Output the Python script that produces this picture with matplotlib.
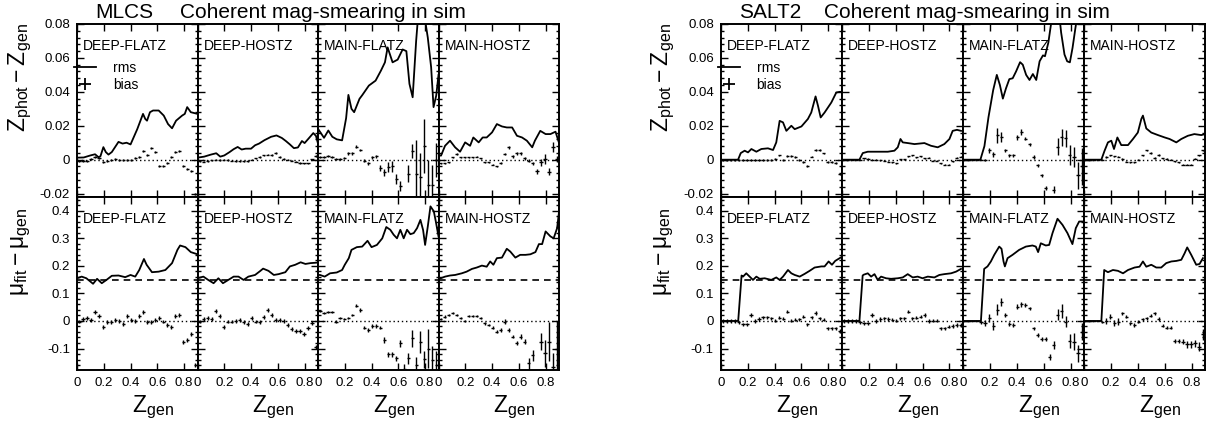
import numpy as np
import matplotlib
matplotlib.use('Agg')
import matplotlib.pyplot as plt
from matplotlib.ticker import MultipleLocator, FuncFormatter
from matplotlib.lines import Line2D

plt.rcParams['font.family'] = ['Liberation Sans', 'DejaVu Sans']
plt.rcParams['axes.unicode_minus'] = False
plt.rcParams['mathtext.fontset'] = 'custom'
plt.rcParams['mathtext.rm'] = 'Liberation Sans'
plt.rcParams['mathtext.it'] = 'Liberation Sans:italic'

nan = np.nan

# panel names and bin centres of the bias points
PANELS = ['DEEP-FLATZ', 'DEEP-HOSTZ', 'MAIN-FLATZ', 'MAIN-HOSTZ']
ZBIN = [0.015, 0.045, 0.075, 0.105, 0.135, 0.165, 0.195, 0.225, 0.255, 0.285,
        0.315, 0.345, 0.375, 0.405, 0.435, 0.465, 0.495, 0.525, 0.555, 0.585,
        0.615, 0.645, 0.675, 0.705, 0.735, 0.765, 0.795, 0.825, 0.855, 0.885]

# ---------------- MLCS, z_phot - z_gen ----------------
mlcs_z_df_rms = [(0.0, 0.0012), (0.05, 0.0013), (0.10, 0.0025), (0.135, 0.0032), (0.16, 0.0015),
                 (0.175, 0.002), (0.197, 0.0074), (0.215, 0.0045), (0.235, 0.003), (0.26, 0.0045),
                 (0.31, 0.0105), (0.34, 0.0095), (0.37, 0.010), (0.40, 0.009), (0.45, 0.018),
                 (0.493, 0.027), (0.51, 0.024), (0.523, 0.023), (0.545, 0.028), (0.568, 0.029),
                 (0.61, 0.029), (0.648, 0.026), (0.68, 0.021), (0.71, 0.0185), (0.74, 0.023),
                 (0.785, 0.026), (0.805, 0.027), (0.823, 0.031), (0.85, 0.028), (0.9, 0.027)]
mlcs_z_df_bias = [-0.0005, -0.0005, -0.0005, 0.0005, 0.0015, 0.001, -0.0012, -0.0008, -0.0003, 0.0003,
                  -0.0003, 0.0, -0.0002, 0.0, 0.001, 0.0015, 0.0053, 0.0027, 0.0067, 0.0047,
                  -0.0039, -0.0039, -0.0022, 0.0018, 0.0047, 0.0053, -0.0039, -0.0055, -0.0069, -0.020]
mlcs_z_df_err = 0.0006

mlcs_z_dh_rms = [(0.0, 0.0012), (0.05, 0.0018), (0.10, 0.003), (0.14, 0.0038), (0.17, 0.0018),
                 (0.2, 0.0025), (0.24, 0.0045), (0.27, 0.0062), (0.3, 0.0075), (0.33, 0.006),
                 (0.36, 0.0065), (0.4, 0.0065), (0.43, 0.0085), (0.46, 0.0095), (0.5, 0.0115),
                 (0.55, 0.0135), (0.59, 0.0143), (0.63, 0.0128), (0.66, 0.011), (0.69, 0.009),
                 (0.72, 0.0068), (0.75, 0.0072), (0.78, 0.011), (0.8, 0.0098), (0.83, 0.0125),
                 (0.865, 0.0157), (0.885, 0.014), (0.9, 0.0095)]
mlcs_z_dh_bias = [-0.0010, -0.0012, -0.0008, -0.0003, 0.0, -0.0002, 0.0, -0.0002, -0.0005, -0.0008,
                  -0.0010, -0.0010, -0.0008, 0.0, 0.0008, 0.0015, 0.0025, 0.0030, 0.0028, 0.0040,
                  0.0015, 0.0005, 0.0, -0.0005, -0.0012, -0.0020, -0.0022, -0.0022, 0.0002, 0.0022]
mlcs_z_dh_err = 0.0004

mlcs_z_mf_rms = [(0.0, 0.0182), (0.045, 0.0129), (0.077, 0.0172), (0.107, 0.0135), (0.14, 0.012),
                 (0.18, 0.0114), (0.21, 0.0245), (0.227, 0.0382), (0.25, 0.030), (0.27, 0.028),
                 (0.31, 0.0359), (0.33, 0.038), (0.38, 0.0437), (0.43, 0.0466), (0.47, 0.0525),
                 (0.50, 0.0574), (0.52, 0.0662), (0.557, 0.0574), (0.595, 0.059), (0.632, 0.065),
                 (0.66, 0.064), (0.683, 0.0447), (0.707, 0.0368), (0.733, 0.070), (0.745, 0.082),
                 (0.775, 0.095), (0.82, 0.072), (0.845, 0.0545), (0.863, 0.031), (0.883, 0.0378),
                 (0.9, 0.05)]
mlcs_z_mf_bias = [0.0018, 0.0014, 0.0024, 0.0018, 0.0004, 0.0004, 0.0008, 0.0037, 0.0037, 0.0076,
                  0.0057, -0.0006, -0.0022, 0.0014, 0.002, -0.0049, -0.0075, -0.0045, -0.004, -0.0114,
                  -0.0153, nan, -0.0084, 0.005, -0.0085, -0.010, 0.0082, -0.015, -0.015, 0.0]
mlcs_z_mf_err = [0.0006, 0.0006, 0.0006, 0.0006, 0.0006, 0.0006, 0.0006, 0.0008, 0.0008, 0.0008,
                 0.0008, 0.0008, 0.0008, 0.001, 0.001, 0.002, 0.002, 0.003, 0.003, 0.003,
                 0.003, 0.004, 0.005, 0.004, 0.02, 0.014, 0.016, 0.015, 0.012, 0.01]

mlcs_z_mh_rms = [(0.0, 0.0025), (0.019, 0.0024), (0.049, 0.0082), (0.086, 0.0112), (0.124, 0.0073),
                 (0.161, 0.0047), (0.199, 0.0102), (0.236, 0.0082), (0.26, 0.0131), (0.30, 0.0102),
                 (0.33, 0.0131), (0.36, 0.0131), (0.40, 0.0161), (0.436, 0.021), (0.474, 0.0196),
                 (0.51, 0.019), (0.55, 0.019), (0.586, 0.0141), (0.624, 0.0131), (0.66, 0.0112),
                 (0.70, 0.0073), (0.72, 0.0112), (0.76, 0.017), (0.80, 0.0151), (0.836, 0.0151),
                 (0.874, 0.0165), (0.899, 0.0102)]
mlcs_z_mh_bias = [-0.002, -0.002, -0.0016, 0.0014, 0.0033, 0.0014, 0.0014, 0.0014, 0.0014, 0.0018,
                  0.0008, -0.0016, -0.0016, -0.003, -0.004, -0.002, 0.0033, 0.0073, 0.002, 0.0037,
                  0.0037, 0.0008, -0.0006, -0.0022, -0.0069, -0.0016, 0.0004, -0.007, 0.0073, 0.0004]
mlcs_z_mh_err = [0.0003, 0.0003, 0.0003, 0.0003, 0.0006, 0.0003, 0.0003, 0.0003, 0.0003, 0.0004,
                 0.0004, 0.0004, 0.0004, 0.0004, 0.0004, 0.0005, 0.0008, 0.0008, 0.0008, 0.0008,
                 0.0008, 0.0008, 0.001, 0.001, 0.0015, 0.002, 0.003, 0.002, 0.003, 0.002]

# ---------------- MLCS, mu_fit - mu_gen ----------------
mlcs_mu_df_rms = [(0.0, 0.155), (0.035, 0.161), (0.07, 0.155), (0.12, 0.135), (0.15, 0.153),
                  (0.185, 0.137), (0.22, 0.149), (0.26, 0.164), (0.31, 0.165), (0.36, 0.159),
                  (0.40, 0.167), (0.435, 0.161), (0.465, 0.185), (0.50, 0.225), (0.52, 0.204),
                  (0.56, 0.177), (0.61, 0.179), (0.66, 0.185), (0.71, 0.21), (0.75, 0.258),
                  (0.77, 0.274), (0.81, 0.268), (0.85, 0.25), (0.9, 0.242)]
mlcs_mu_df_bias = [-0.002, 0.007, 0.012, 0.005, 0.032, 0.018, -0.023, -0.005, -0.005, 0.004,
                   0.001, -0.012, 0.019, 0.004, 0.001, 0.019, 0.034, -0.004, -0.005, 0.004,
                   0.010, -0.002, -0.015, -0.022, 0.018, 0.022, -0.075, -0.069, -0.048, -0.160]
mlcs_mu_df_err = 0.007

mlcs_mu_dh_rms = [(0.0, 0.155), (0.044, 0.161), (0.08, 0.149), (0.12, 0.137), (0.156, 0.155),
                  (0.19, 0.137), (0.23, 0.149), (0.27, 0.161), (0.306, 0.161), (0.344, 0.149),
                  (0.38, 0.161), (0.43, 0.167), (0.47, 0.182), (0.49, 0.19), (0.53, 0.182),
                  (0.57, 0.167), (0.606, 0.170), (0.656, 0.177), (0.69, 0.198), (0.73, 0.204),
                  (0.77, 0.213), (0.806, 0.207), (0.844, 0.21), (0.9, 0.212)]
mlcs_mu_dh_bias = [-0.002, 0.007, 0.010, 0.007, 0.036, 0.019, -0.021, -0.002, -0.002, 0.0,
                   0.002, -0.005, -0.012, 0.012, -0.002, -0.003, 0.013, 0.040, 0.022, 0.004,
                   0.002, 0.0, -0.015, -0.030, -0.036, -0.036, -0.048, -0.027, -0.008, -0.093]
mlcs_mu_dh_err = 0.007

mlcs_mu_mf_rms = [(0.0, 0.167), (0.015, 0.167), (0.05, 0.161), (0.09, 0.173), (0.14, 0.176),
                  (0.18, 0.185), (0.2, 0.204), (0.23, 0.228), (0.25, 0.258), (0.29, 0.268),
                  (0.33, 0.27), (0.37, 0.291), (0.40, 0.268), (0.44, 0.276), (0.48, 0.30),
                  (0.51, 0.341), (0.54, 0.331), (0.565, 0.313), (0.59, 0.30), (0.615, 0.331),
                  (0.64, 0.30), (0.665, 0.331), (0.69, 0.315), (0.715, 0.319), (0.74, 0.337),
                  (0.765, 0.367), (0.785, 0.33), (0.80, 0.276), (0.82, 0.343), (0.84, 0.416),
                  (0.865, 0.398), (0.88, 0.361), (0.9, 0.307)]
mlcs_mu_mf_bias = [0.036, 0.028, 0.032, 0.032, -0.002, 0.012, 0.007, 0.012, 0.022, 0.055,
                   0.040, -0.024, -0.033, -0.018, -0.018, -0.024, -0.069, -0.121, -0.121, -0.136,
                   -0.081, -0.175, -0.136, -0.063, -0.16, -0.075, -0.139, -0.10, -0.142, -0.16]
mlcs_mu_mf_err = [0.004, 0.004, 0.004, 0.004, 0.004, 0.004, 0.004, 0.004, 0.004, 0.006,
                  0.006, 0.006, 0.006, 0.006, 0.006, 0.006, 0.01, 0.01, 0.01, 0.01,
                  0.012, 0.02, 0.02, 0.03, 0.03, 0.04, 0.03, 0.07, 0.05, 0.05]

mlcs_mu_mh_rms = [(0.0, 0.155), (0.016, 0.155), (0.049, 0.161), (0.086, 0.165), (0.124, 0.167),
                  (0.174, 0.173), (0.21, 0.179), (0.25, 0.189), (0.286, 0.194), (0.324, 0.201),
                  (0.36, 0.197), (0.386, 0.216), (0.41, 0.204), (0.436, 0.228), (0.474, 0.23),
                  (0.51, 0.262), (0.536, 0.252), (0.574, 0.23), (0.61, 0.24), (0.65, 0.24),
                  (0.686, 0.242), (0.724, 0.25), (0.75, 0.279), (0.774, 0.279), (0.80, 0.325),
                  (0.836, 0.307), (0.86, 0.30), (0.886, 0.337), (0.904, 0.412)]
mlcs_mu_mh_bias = [0.006, 0.016, 0.022, 0.028, 0.022, 0.012, 0.0, 0.019, 0.019, 0.019,
                   0.010, -0.008, -0.015, -0.024, -0.039, -0.033, -0.002, -0.033, -0.057, -0.081,
                   -0.057, -0.075, -0.154, -0.124, nan, -0.075, -0.118, -0.075, -0.166, -0.1]
mlcs_mu_mh_err = [0.004, 0.004, 0.004, 0.004, 0.004, 0.004, 0.004, 0.004, 0.004, 0.004,
                  0.004, 0.005, 0.005, 0.005, 0.006, 0.006, 0.008, 0.006, 0.006, 0.008,
                  0.008, 0.008, 0.02, 0.02, 0.03, 0.03, 0.05, 0.07, 0.05, 0.1]

# ---------------- SALT2, z_phot - z_gen ----------------
salt_z_df_rms = [(0.0, 0.0), (0.129, 0.0), (0.149, 0.0039), (0.178, 0.0053), (0.203, 0.0043),
                 (0.228, 0.0063), (0.265, 0.0047), (0.302, 0.0063), (0.351, 0.0067), (0.389, 0.0057),
                 (0.413, 0.0102), (0.438, 0.0229), (0.463, 0.022), (0.488, 0.017), (0.525, 0.020),
                 (0.55, 0.018), (0.60, 0.0196), (0.648, 0.024), (0.673, 0.0278), (0.705, 0.0373),
                 (0.723, 0.0318), (0.743, 0.0249), (0.772, 0.0278), (0.822, 0.0337), (0.859, 0.0396),
                 (0.884, 0.040), (0.9, 0.040)]
salt_z_df_bias = [0.0, 0.0, 0.0, 0.0, 0.0, 0.0, 0.0, -0.0002, -0.0002, 0.0,
                  0.0, 0.0, -0.0002, 0.0004, 0.0025, 0.0, 0.0021, 0.0021, 0.0015, 0.0,
                  -0.0015, -0.0039, 0.0018, 0.0057, 0.0057, 0.0037, -0.0015, -0.0015, -0.002, -0.0086]
salt_z_df_err = 0.0005

salt_z_dh_rms = [(0.0, 0.0), (0.131, 0.0), (0.156, 0.0039), (0.193, 0.0047), (0.243, 0.0047),
                 (0.292, 0.0047), (0.342, 0.0047), (0.391, 0.0053), (0.416, 0.0073), (0.436, 0.0122),
                 (0.453, 0.0102), (0.49, 0.0098), (0.54, 0.0092), (0.614, 0.0098), (0.663, 0.0082),
                 (0.713, 0.0073), (0.762, 0.0092), (0.80, 0.0122), (0.824, 0.017), (0.856, 0.0176),
                 (0.886, 0.017)]
salt_z_dh_bias = [0.0, 0.0, 0.0, 0.0, 0.0, 0.0008, 0.0005, 0.0, 0.0, -0.0002,
                  -0.0006, -0.0012, -0.0016, -0.002, 0.0003, 0.0003, 0.002, 0.0025, 0.0015, 0.002,
                  0.0008, 0.0012, -0.0006, -0.0006, -0.002, -0.003, -0.003, -0.0008, 0.0012, 0.0018]
salt_z_dh_err = 0.0003

salt_z_mf_rms = [(0.0, 0.0), (0.13, 0.0), (0.16, 0.008), (0.19, 0.025), (0.225, 0.041),
                 (0.252, 0.050), (0.275, 0.044), (0.297, 0.036), (0.32, 0.042), (0.345, 0.0475),
                 (0.37, 0.048), (0.395, 0.052), (0.425, 0.0575), (0.445, 0.056), (0.47, 0.050),
                 (0.495, 0.047), (0.52, 0.0505), (0.545, 0.047), (0.57, 0.058), (0.595, 0.0615),
                 (0.61, 0.061), (0.635, 0.069), (0.655, 0.08), (0.68, 0.092), (0.71, 0.09),
                 (0.73, 0.075), (0.755, 0.062), (0.775, 0.058), (0.795, 0.0574), (0.815, 0.066),
                 (0.835, 0.077), (0.86, 0.09), (0.9, 0.095)]
salt_z_mf_bias = [0.0, 0.0, 0.0, 0.0, 0.0, 0.0, 0.0055, 0.0031, 0.0143, 0.0133,
                  0.0055, 0.0025, 0.0025, 0.0133, 0.0163, 0.0124, 0.009, 0.0016, -0.0033, -0.0092,
                  -0.0167, nan, -0.0176, 0.0075, 0.0133, 0.0125, 0.0028, 0.0015, -0.0093, -0.004]
salt_z_mf_err = [0.0003, 0.0003, 0.0003, 0.0003, 0.0003, 0.0005, 0.0015, 0.0015, 0.0045, 0.003,
                 0.001, 0.001, 0.001, 0.0015, 0.0015, 0.001, 0.001, 0.001, 0.001, 0.001,
                 0.001, 0.002, 0.002, 0.005, 0.005, 0.005, 0.006, 0.006, 0.008, 0.011]

salt_z_mh_rms = [(0.0, 0.0), (0.129, 0.0), (0.153, 0.0053), (0.178, 0.0102), (0.203, 0.0112),
                 (0.223, 0.0063), (0.248, 0.0131), (0.277, 0.0086), (0.327, 0.0086), (0.364, 0.0122),
                 (0.40, 0.016), (0.426, 0.024), (0.438, 0.026), (0.463, 0.0184), (0.50, 0.016),
                 (0.55, 0.0145), (0.60, 0.0131), (0.636, 0.0122), (0.686, 0.0102), (0.723, 0.0122),
                 (0.772, 0.0141), (0.82, 0.0151), (0.871, 0.0145), (0.9, 0.0151)]
salt_z_mh_bias = [0.0, 0.0, 0.0, 0.0, 0.0, 0.0015, 0.0025, 0.002, 0.0018, 0.0005,
                  -0.0012, -0.0015, -0.0015, 0.0, 0.0025, 0.0055, 0.004, 0.001, 0.0027, 0.0008,
                  0.0004, 0.0, -0.001, -0.0015, -0.003, -0.003, -0.003, 0.0006, 0.0025, 0.0055]
salt_z_mh_err = 0.0004

# ---------------- SALT2, mu_fit - mu_gen ----------------
salt_mu_df_rms = [(0.0, 0.0), (0.13, 0.0), (0.155, 0.165), (0.166, 0.161), (0.19, 0.173),
                  (0.215, 0.161), (0.24, 0.149), (0.265, 0.161), (0.29, 0.153), (0.327, 0.155),
                  (0.376, 0.149), (0.413, 0.158), (0.438, 0.149), (0.463, 0.161), (0.50, 0.185),
                  (0.525, 0.173), (0.55, 0.167), (0.587, 0.161), (0.624, 0.171), (0.661, 0.182),
                  (0.698, 0.194), (0.748, 0.198), (0.772, 0.198), (0.802, 0.216), (0.827, 0.204),
                  (0.851, 0.218), (0.891, 0.23)]
salt_mu_df_bias = [0.0, 0.0, 0.0, 0.0, -0.005, -0.012, -0.012, 0.022, 0.0, 0.007,
                   0.013, 0.013, 0.01, 0.001, 0.012, 0.008, 0.034, 0.001, 0.005, 0.006,
                   0.016, -0.012, 0.013, 0.029, 0.01, 0.005, -0.027, -0.027, -0.027, -0.036]
salt_mu_df_err = 0.006

salt_mu_dh_rms = [(0.0, 0.0), (0.131, 0.0), (0.155, 0.165), (0.163, 0.168), (0.193, 0.173),
                  (0.218, 0.161), (0.243, 0.17), (0.267, 0.149), (0.292, 0.161), (0.329, 0.155),
                  (0.366, 0.153), (0.416, 0.155), (0.453, 0.158), (0.49, 0.17), (0.527, 0.158),
                  (0.564, 0.161), (0.60, 0.155), (0.639, 0.161), (0.688, 0.158), (0.725, 0.167),
                  (0.762, 0.17), (0.812, 0.173), (0.849, 0.179), (0.886, 0.189)]
salt_mu_dh_bias = [0.0, 0.0, 0.0, 0.0, -0.005, -0.008, -0.008, 0.022, 0.0, 0.007,
                   0.01, 0.007, 0.005, 0.001, 0.01, 0.01, 0.034, 0.01, 0.012, 0.015,
                   0.022, 0.0, 0.001, 0.001, -0.027, -0.027, -0.021, -0.018, -0.015, -0.015]
salt_mu_dh_err = 0.006

salt_mu_mf_rms = [(0.0, 0.0), (0.134, 0.0), (0.158, 0.189), (0.183, 0.198), (0.208, 0.216),
                  (0.233, 0.24), (0.27, 0.27), (0.287, 0.262), (0.302, 0.216), (0.312, 0.198),
                  (0.332, 0.228), (0.369, 0.24), (0.418, 0.258), (0.468, 0.27), (0.517, 0.274),
                  (0.542, 0.27), (0.559, 0.25), (0.579, 0.282), (0.616, 0.274), (0.641, 0.276),
                  (0.666, 0.319), (0.703, 0.371), (0.74, 0.349), (0.777, 0.319), (0.814, 0.279),
                  (0.839, 0.337), (0.864, 0.361), (0.9, 0.361)]
salt_mu_mf_bias = [0.0, 0.0, 0.0, 0.0, -0.005, -0.008, 0.012, -0.017, 0.04, 0.07,
                   0.022, -0.012, -0.015, 0.052, 0.06, 0.058, 0.046, -0.027, -0.051, -0.065,
                   -0.065, -0.13, -0.087, 0.022, 0.036, -0.002, -0.073, -0.075, -0.118, -0.039]
salt_mu_mf_err = [0.001, 0.001, 0.001, 0.001, 0.005, 0.01, 0.015, 0.015, 0.02, 0.015,
                  0.008, 0.008, 0.008, 0.008, 0.008, 0.008, 0.006, 0.006, 0.006, 0.006,
                  0.006, 0.01, 0.015, 0.02, 0.025, 0.02, 0.025, 0.03, 0.03, 0.03]

salt_mu_mh_rms = [(0.0, 0.0), (0.129, 0.0), (0.15, 0.185), (0.178, 0.177), (0.215, 0.185),
                  (0.252, 0.182), (0.29, 0.173), (0.327, 0.185), (0.376, 0.194), (0.413, 0.197),
                  (0.438, 0.216), (0.463, 0.197), (0.50, 0.204), (0.537, 0.194), (0.574, 0.194),
                  (0.611, 0.21), (0.649, 0.216), (0.686, 0.218), (0.723, 0.222), (0.748, 0.246),
                  (0.767, 0.267), (0.797, 0.24), (0.834, 0.204), (0.859, 0.207), (0.884, 0.228)]
salt_mu_mh_bias = [0.0, 0.0, 0.0, 0.0, -0.005, 0.0, 0.016, -0.008, -0.002, 0.028,
                   0.016, -0.008, -0.015, -0.002, 0.006, 0.01, 0.019, 0.028, 0.007, -0.017,
                   -0.024, -0.024, -0.073, -0.073, -0.075, -0.085, -0.085, -0.081, -0.093, -0.048]
salt_mu_mh_err = [0.001, 0.001, 0.001, 0.001, 0.004, 0.01, 0.008, 0.012, 0.012, 0.006,
                  0.006, 0.006, 0.006, 0.006, 0.006, 0.006, 0.006, 0.006, 0.006, 0.006,
                  0.006, 0.006, 0.008, 0.008, 0.01, 0.012, 0.012, 0.012, 0.015, 0.02]

MU_SIGMA_INT = 0.15

# tables built from the lists above
blocks = {
    'MLCS': {
        'z': [(mlcs_z_df_rms, mlcs_z_df_bias, mlcs_z_df_err), (mlcs_z_dh_rms, mlcs_z_dh_bias, mlcs_z_dh_err),
              (mlcs_z_mf_rms, mlcs_z_mf_bias, mlcs_z_mf_err), (mlcs_z_mh_rms, mlcs_z_mh_bias, mlcs_z_mh_err)],
        'mu': [(mlcs_mu_df_rms, mlcs_mu_df_bias, mlcs_mu_df_err), (mlcs_mu_dh_rms, mlcs_mu_dh_bias, mlcs_mu_dh_err),
               (mlcs_mu_mf_rms, mlcs_mu_mf_bias, mlcs_mu_mf_err), (mlcs_mu_mh_rms, mlcs_mu_mh_bias, mlcs_mu_mh_err)],
    },
    'SALT2': {
        'z': [(salt_z_df_rms, salt_z_df_bias, salt_z_df_err), (salt_z_dh_rms, salt_z_dh_bias, salt_z_dh_err),
              (salt_z_mf_rms, salt_z_mf_bias, salt_z_mf_err), (salt_z_mh_rms, salt_z_mh_bias, salt_z_mh_err)],
        'mu': [(salt_mu_df_rms, salt_mu_df_bias, salt_mu_df_err), (salt_mu_dh_rms, salt_mu_dh_bias, salt_mu_dh_err),
               (salt_mu_mf_rms, salt_mu_mf_bias, salt_mu_mf_err), (salt_mu_mh_rms, salt_mu_mh_bias, salt_mu_mh_err)],
    },
}

W, H = 1208, 425
fig = plt.figure(figsize=(W / 100, H / 100), dpi=100)

fmt = FuncFormatter(lambda v, p: '%g' % (round(v, 4) + 0.0))


def px(x0, y0, w, h):
    # pixel box (from top-left) -> figure fraction rect
    return [x0 / W, 1 - (y0 + h) / H, w / W, h / H]


def style_axes(ax, row, col):
    ax.set_xlim(0, 0.9)
    ax.xaxis.set_major_locator(MultipleLocator(0.2))
    ax.xaxis.set_major_formatter(fmt)
    if row == 'z':
        ax.set_ylim(-0.022, 0.08)
        ax.yaxis.set_major_locator(MultipleLocator(0.02))
        ax.yaxis.set_minor_locator(MultipleLocator(0.004))
    else:
        ax.set_ylim(-0.178, 0.45)
        ax.yaxis.set_major_locator(MultipleLocator(0.1))
        ax.yaxis.set_minor_locator(MultipleLocator(0.02))
    ax.yaxis.set_major_formatter(fmt)
    ax.tick_params(which='both', direction='in', top=True, right=True, width=1, labelsize=9.5,
                   labelleft=(col == 0), labelbottom=(row == 'mu'), pad=5)
    ax.tick_params(which='major', length=5)
    ax.tick_params(which='minor', length=2.5)
    for s in ax.spines.values():
        s.set_linewidth(1.4)


block_left = {'MLCS': 77, 'SALT2': 720.7}
panel_w = {'MLCS': 120.5, 'SALT2': 121.1}
row_top = {'z': 24, 'mu': 197}
row_h = 173

for model, rows in blocks.items():
    x0 = block_left[model]
    pw = panel_w[model]
    for row, panels in rows.items():
        for col, (rms, bias, err) in enumerate(panels):
            ax = fig.add_axes(px(x0 + col * pw, row_top[row], pw, row_h))
            style_axes(ax, row, col)
            ax.axhline(0, color='k', ls=(0, (1, 2)), lw=1)
            if row == 'mu':
                ax.axhline(MU_SIGMA_INT, color='k', ls=(0, (4, 3)), lw=1.2)
            rx = [p[0] for p in rms]
            ry = [p[1] for p in rms]
            ax.plot(rx, ry, color='k', lw=1.3)
            ax.errorbar(ZBIN, bias, yerr=err, xerr=0.012, fmt='none', ecolor='k',
                        elinewidth=1.0, capsize=0)
            ax.text(0.05, 0.87, PANELS[col], transform=ax.transAxes, fontsize=10,
                    va='center', ha='left')
            if row == 'z' and col == 0:
                h1 = Line2D([], [], color='k', lw=1.3)
                h2 = Line2D([], [], color='k', marker='+', ls='none', markersize=8, mew=1.3)
                ax.legend([h1, h2], ['rms', 'bias'], loc='upper left', bbox_to_anchor=(-0.025, 0.786),
                          frameon=False, fontsize=10, handlelength=1.6, handletextpad=1.2,
                          labelspacing=0.2, borderpad=0, borderaxespad=0)
            if row == 'mu':
                fig.text((x0 + (col + 1) * pw - 24) / W, 1 - 412 / H, r'$\mathregular{Z_{gen}}$',
                         fontsize=16.5, ha='right', va='baseline')

    # titles and y axis labels
    fig.text((x0 + 18) / W, 1 - 18 / H, model, fontsize=15, va='baseline')
    fig.text((x0 + 103) / W, 1 - 18 / H, 'Coherent mag-smearing in sim', fontsize=15, va='baseline')
    fig.text((x0 - 57) / W, 1 - 23 / H, r'$\mathregular{Z_{phot} - Z_{gen}}$', fontsize=16.5,
             rotation=90, ha='center', va='top')
    fig.text((x0 - 56) / W, 1 - 207 / H, r'$\mathregular{\mu_{fit} - \mu_{gen}}$', fontsize=16.5,
             rotation=90, ha='center', va='top')

fig.savefig('out.png', dpi=100)
